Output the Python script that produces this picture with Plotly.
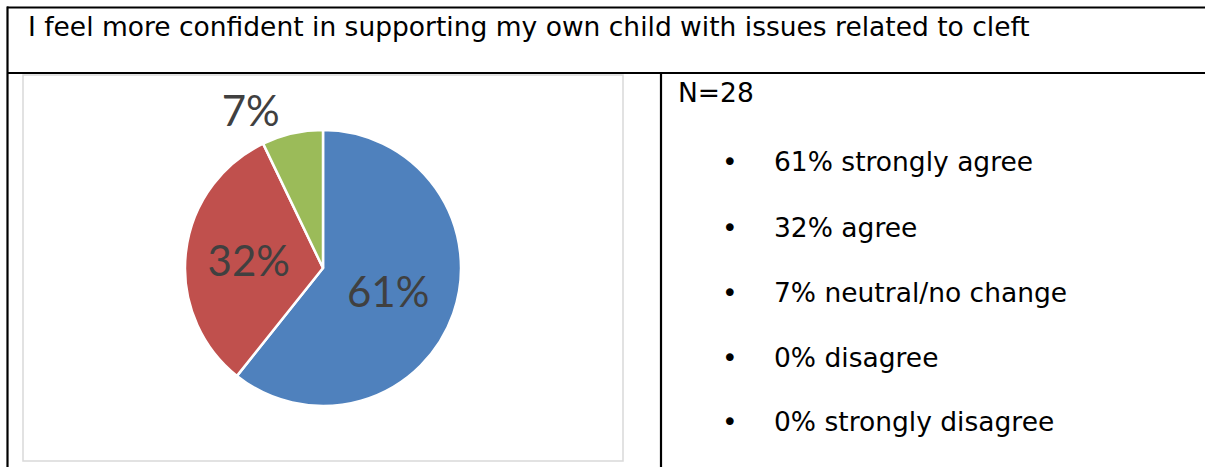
import plotly.graph_objects as go

W, H = 1205, 467

title_text = "I feel more confident in supporting my own child with issues related to cleft"
categories = ["strongly agree", "agree", "neutral/no change", "disagree", "strongly disagree"]
counts = [17, 9, 2, 0, 0]
percent_labels = ["61%", "32%", "7%", "0%", "0%"]
n_label = "N=28"
slice_colors = ["#4F81BD", "#C0504D", "#9BBB59", "#8064A2", "#4BACC6"]

def px_x(x):
    return x / W

def px_y(y):
    return 1 - y / H

pie_cats = [c for c, v in zip(categories, counts) if v > 0]
pie_vals = [v for v in counts if v > 0]
pie_txt = [t for t, v in zip(percent_labels, counts) if v > 0]
pie_pos = ["inside" if v / sum(pie_vals) > 0.15 else "outside" for v in pie_vals]

cx, cy, r = 323, 268, 138
lbl_font = dict(family="Lato, Open Sans, sans-serif", size=42, color="#404040")
fig = go.Figure(go.Pie(
    labels=pie_cats, values=pie_vals, text=pie_txt, textinfo="text",
    textposition=pie_pos, insidetextorientation="horizontal",
    sort=False, direction="clockwise", rotation=0,
    marker=dict(colors=slice_colors[:len(pie_vals)], line=dict(color="white", width=2.5)),
    textfont=lbl_font, insidetextfont=lbl_font, outsidetextfont=lbl_font,
    domain=dict(x=[px_x(cx - r), px_x(cx + r)], y=[px_y(cy + r), px_y(cy - r)]),
    showlegend=False, hoverinfo="label+percent",
))

line_k = dict(color="black", width=2.2)
shapes = [
    dict(type="line", xref="paper", yref="paper", x0=px_x(7), x1=1, y0=px_y(7.5), y1=px_y(7.5), line=line_k),
    dict(type="line", xref="paper", yref="paper", x0=px_x(7), x1=1, y0=px_y(73), y1=px_y(73), line=line_k),
    dict(type="line", xref="paper", yref="paper", x0=px_x(7.5), x1=px_x(7.5), y0=px_y(6.5), y1=0, line=line_k),
    dict(type="line", xref="paper", yref="paper", x0=px_x(661), x1=px_x(661), y0=px_y(73), y1=0, line=line_k),
    dict(type="rect", xref="paper", yref="paper", x0=px_x(23), x1=px_x(623), y0=px_y(461), y1=px_y(75),
         line=dict(color="#D9D9D9", width=1.5)),
]

txt_font = dict(family="DejaVu Sans, Verdana, sans-serif", size=26.5, color="black")
annotations = [
    dict(text=title_text, x=px_x(26), y=px_y(27), xref="paper", yref="paper",
         xanchor="left", yanchor="middle", showarrow=False, font=txt_font),
    dict(text=n_label, x=px_x(676), y=px_y(93), xref="paper", yref="paper",
         xanchor="left", yanchor="middle", showarrow=False, font=txt_font),
]
row_y = [162, 227, 292, 357, 421]
for i, (p, c) in enumerate(zip(percent_labels, categories)):
    annotations.append(dict(text="•", x=px_x(730), y=px_y(row_y[i]), xref="paper", yref="paper",
                            xanchor="center", yanchor="middle", showarrow=False, font=txt_font))
    annotations.append(dict(text=f"{p} {c}", x=px_x(772), y=px_y(row_y[i]), xref="paper", yref="paper",
                            xanchor="left", yanchor="middle", showarrow=False, font=txt_font))

fig.update_layout(
    width=W, height=H, margin=dict(l=0, r=0, t=0, b=0),
    paper_bgcolor="white", plot_bgcolor="white",
    shapes=shapes, annotations=annotations,
)
fig.write_html("out.html", config={"displayModeBar": False},
               post_script="document.body.style.margin='0';document.body.style.overflow='hidden';")
